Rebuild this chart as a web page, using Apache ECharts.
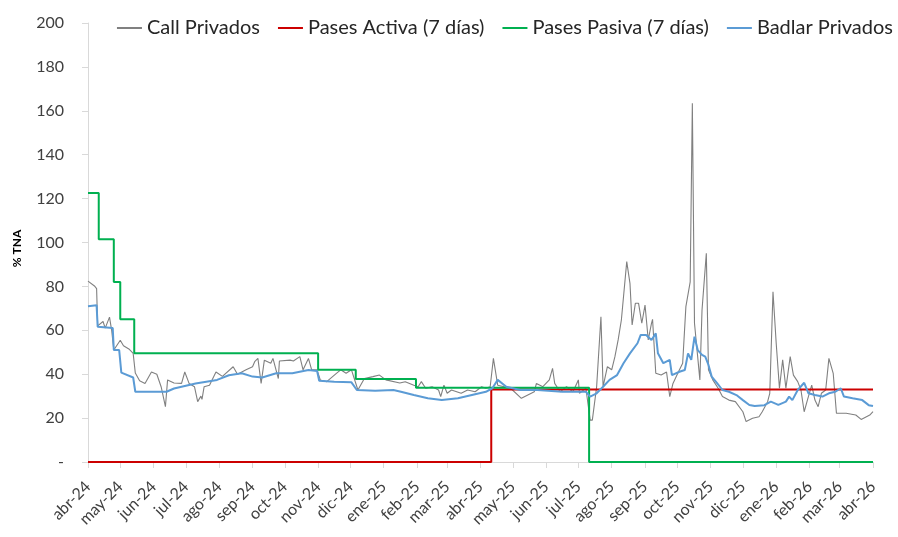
<!DOCTYPE html>
<html>
<head>
<meta charset="utf-8">
<script src="https://cdn.jsdelivr.net/npm/echarts@6/dist/echarts.min.js"></script>
<style>
html,body{margin:0;padding:0;background:#fff}
#tasas{width:898px;height:537px}
</style>
</head>
<body>
<div id="tasas"></div>
<script>
// meses para las etiquetas del eje x
var meses = ['ene','feb','mar','abr','may','jun','jul','ago','sep','oct','nov','dic'];
var desde = '2024-04-01';
var hasta = '2026-04-01';

// Call Privados
var callFechas = [
  '2024-04-01','2024-04-07','2024-04-09','2024-04-10','2024-04-15','2024-04-17','2024-04-21','2024-04-23','2024-04-25',
  '2024-05-01','2024-05-04','2024-05-09','2024-05-13','2024-05-15','2024-05-19','2024-05-24','2024-05-30',
  '2024-06-04','2024-06-08','2024-06-12','2024-06-14','2024-06-20','2024-06-27','2024-06-30',
  '2024-07-04','2024-07-09','2024-07-12','2024-07-15','2024-07-16','2024-07-18','2024-07-23','2024-07-29',
  '2024-08-04','2024-08-14','2024-08-18','2024-08-22','2024-08-26',
  '2024-09-01','2024-09-03','2024-09-06','2024-09-09','2024-09-12','2024-09-18','2024-09-20','2024-09-25','2024-09-26',
  '2024-10-06','2024-10-09','2024-10-15','2024-10-18','2024-10-23','2024-10-26','2024-10-31',
  '2024-11-03','2024-11-09','2024-11-18','2024-11-22','2024-11-27',
  '2024-12-02','2024-12-08','2024-12-14','2024-12-22','2024-12-28',
  '2025-01-03','2025-01-16','2025-01-21','2025-01-29',
  '2025-02-02','2025-02-05','2025-02-09','2025-02-15','2025-02-21','2025-02-23','2025-02-26',
  '2025-03-01','2025-03-05','2025-03-14','2025-03-20','2025-03-27',
  '2025-04-02','2025-04-06','2025-04-10','2025-04-13','2025-04-17','2025-04-23','2025-04-29',
  '2025-05-09','2025-05-15','2025-05-21','2025-05-23','2025-05-29',
  '2025-06-04','2025-06-07','2025-06-09','2025-06-14','2025-06-20','2025-06-26',
  '2025-07-01','2025-07-02','2025-07-08','2025-07-12','2025-07-14','2025-07-18','2025-07-22','2025-07-24','2025-07-28',
  '2025-08-01','2025-08-04','2025-08-07','2025-08-10','2025-08-15','2025-08-18','2025-08-20','2025-08-23','2025-08-26','2025-08-29',
  '2025-09-01','2025-09-04','2025-09-07','2025-09-08','2025-09-11','2025-09-16','2025-09-21','2025-09-24','2025-09-27',
  '2025-10-02','2025-10-06','2025-10-09','2025-10-13','2025-10-15','2025-10-17','2025-10-22','2025-10-24','2025-10-28','2025-10-30',
  '2025-11-03','2025-11-08','2025-11-12','2025-11-18','2025-11-24',
  '2025-12-01','2025-12-04','2025-12-10','2025-12-16','2025-12-19','2025-12-24','2025-12-26','2025-12-29',
  '2026-01-01','2026-01-04','2026-01-07','2026-01-10','2026-01-14','2026-01-17','2026-01-21','2026-01-24','2026-01-27','2026-01-30',
  '2026-02-03','2026-02-06','2026-02-09','2026-02-12','2026-02-16','2026-02-19','2026-02-23','2026-02-26',
  '2026-03-07','2026-03-16','2026-03-21','2026-03-29',
  '2026-04-01'
];
var callValores = [
  82.4, 80.2, 79, 62, 64, 61, 66, 60, 51,
  55.5, 53, 51.5, 49.5, 40.5, 37, 35.8, 41,
  40, 34.3, 25.2, 37.4, 36, 35.8, 41,
  35.8, 34.3, 27.5, 30, 28.5, 34.3, 35, 41,
  39, 43.4, 40, 41, 42,
  43.4, 45.7, 47.2, 35.8, 46.4, 45, 47.2, 38, 46,
  46.4, 46, 48, 42, 47.2, 42, 42,
  37.4, 36.6, 40.4, 42, 40.4,
  42, 32.8, 38, 38.9, 39.6,
  37.4, 36, 36.6, 35,
  34.3, 36.6, 33.6, 34.3, 32.8, 29.8, 35,
  31.3, 32.8, 31.3, 32.8, 32,
  34.3, 33.6, 34.3, 47.2, 35, 34.3, 33.6,
  29, 30.5, 32, 35.8, 34.3,
  37.4, 42.7, 35.8, 32, 34.3, 32,
  37.4, 31.3, 33.6, 19.1, 19.1, 34.3, 66.2, 34.3, 43.4,
  42, 48, 55.6, 64.7, 91.3, 81.4, 62.4, 72.3, 72.3, 63.2,
  71.5, 55.6, 63.2, 65, 40.4, 39.6, 41, 29.8, 35.8,
  41, 45, 70.8, 82.1, 163.4, 63.2, 37.4, 69.2, 95.1, 42,
  37.4, 33.6, 29.8, 28.2, 27.5,
  22.9, 18.4, 19.9, 20.6, 22.9, 27.5, 31.3, 77.6,
  54, 33.6, 46.5, 33.6, 48, 39.6, 36.6, 32.8, 22.9, 28.2,
  35, 28.2, 25.2, 31.3, 32.8, 47.2, 40.4, 22.2,
  22.2, 21.4, 19.4, 21.4,
  22.9
];

// Badlar Privados
var badlarFechas = [
  '2024-04-01','2024-04-09','2024-04-10','2024-04-24','2024-04-25','2024-04-30',
  '2024-05-02','2024-05-13','2024-05-15',
  '2024-06-13','2024-06-20',
  '2024-07-10','2024-07-30',
  '2024-08-10','2024-08-22',
  '2024-09-01','2024-09-10','2024-09-23',
  '2024-10-08','2024-10-23','2024-10-31',
  '2024-11-02','2024-11-16',
  '2024-12-02','2024-12-07','2024-12-24',
  '2025-01-10','2025-01-17','2025-01-29',
  '2025-02-11','2025-02-24',
  '2025-03-11','2025-03-24',
  '2025-04-06','2025-04-12','2025-04-17','2025-04-25',
  '2025-05-08','2025-05-24',
  '2025-06-16',
  '2025-07-08','2025-07-12','2025-07-18','2025-07-24','2025-07-30',
  '2025-08-06','2025-08-12','2025-08-18','2025-08-25','2025-08-28',
  '2025-09-02','2025-09-07','2025-09-11','2025-09-13','2025-09-18','2025-09-24','2025-09-26',
  '2025-10-03','2025-10-08','2025-10-11','2025-10-14','2025-10-17','2025-10-20','2025-10-24','2025-10-27','2025-10-30',
  '2025-11-02','2025-11-07','2025-11-12','2025-11-18','2025-11-25',
  '2025-12-01','2025-12-07','2025-12-12','2025-12-21','2025-12-27',
  '2026-01-03','2026-01-10','2026-01-13','2026-01-16','2026-01-21','2026-01-27','2026-01-31',
  '2026-02-06','2026-02-13','2026-02-19','2026-02-25',
  '2026-03-02','2026-03-05','2026-03-13','2026-03-22','2026-03-28',
  '2026-04-01'
];
var badlarValores = [
  71, 71.4, 61.6, 61, 51, 51,
  40.7, 38.5, 32,
  32, 33.5,
  35.8, 37.4,
  39.5, 40.4,
  38.9, 38.5, 40.4,
  40.4, 41.9, 41.5,
  37, 36.6,
  36.3, 32.8, 32.5,
  32.8, 32, 30.5,
  29, 28.2,
  29, 30.5,
  32, 33.6, 37.4, 34.3,
  32.8, 32.8,
  32,
  32, 29.8, 31.3, 34.3, 37.4,
  39.6, 45, 49.5, 54.1, 57.9,
  57.9, 55.6, 58.6, 49.5, 45, 46.5, 39.6,
  41.1, 41.9, 49.5, 46.5, 57.1, 51, 48.8, 48, 44.2,
  38.9, 35.9, 32.8, 32, 30.5,
  28.2, 26, 25.5, 25.9, 27.5,
  26, 27.5, 29.8, 28.2, 32.8, 36.1, 31.3,
  30.5, 29.8, 31.3, 32,
  33.6, 29.8, 29, 28.2, 25.9,
  25.5
];

// pases: fecha de cada cambio y nivel vigente desde esa fecha
var activaCambios = ['2024-04-01', '2025-04-11'];
var activaNiveles = [0, 33];
var pasivaCambios = ['2024-04-01','2024-04-11','2024-04-25','2024-05-01','2024-05-14','2024-11-01','2024-12-06','2025-01-31','2025-07-11'];
var pasivaNiveles = [122.5, 101.5, 82, 65, 49.5, 42, 37.8, 33.8, 0];

function juntar(fechas, valores) {
    var out = [];
    for (var i = 0; i < fechas.length; i++) out.push([fechas[i], valores[i]]);
    return out;
}
// escalera: cada nivel se mantiene hasta el siguiente cambio
function escalones(cambios, niveles, fin) {
    var out = [];
    for (var i = 0; i < cambios.length; i++) {
        if (i > 0) out.push([cambios[i], niveles[i - 1]]);
        out.push([cambios[i], niveles[i]]);
    }
    out.push([fin, niveles[niveles.length - 1]]);
    return out;
}

var fuente = 'Lato';
var DIA = 24 * 3600 * 1000;
var myChart = echarts.init(document.getElementById('tasas'));

var option = {
    animation: false,
    textStyle: { fontFamily: fuente },
    legend: {
        right: 0,
        top: 13,
        icon: 'rect',
        itemWidth: 25,
        itemHeight: 2,
        itemGap: 18,
        textStyle: { fontSize: 20, color: '#262626', fontFamily: fuente },
        data: ['Call Privados', 'Pases Activa (7 días)', 'Pases Pasiva (7 días)', 'Badlar Privados']
    },
    grid: { left: 88, right: 25, top: 23, bottom: 75 },
    xAxis: {
        type: 'time',
        min: desde,
        max: hasta,
        minInterval: 28 * DIA,
        maxInterval: 31 * DIA,
        splitLine: { show: false },
        axisLine: { lineStyle: { color: '#d9d9d9', width: 1 } },
        axisTick: { show: true, length: 6, lineStyle: { color: '#d9d9d9' } },
        axisLabel: {
            rotate: 45,
            margin: 22,
            fontSize: 16,
            color: '#404040',
            hideOverlap: false,
            formatter: function (v) {
                var d = new Date(v);
                return meses[d.getMonth()] + '-' + String(d.getFullYear()).slice(2);
            }
        }
    },
    yAxis: {
        type: 'value',
        min: 0,
        max: 200,
        interval: 20,
        name: '% TNA',
        nameLocation: 'middle',
        nameGap: 65,
        nameTextStyle: { fontSize: 12, fontWeight: 'bold', color: '#000', fontFamily: fuente, padding: [0, 12, 0, 0] },
        splitLine: { show: false },
        axisLine: { show: true, lineStyle: { color: '#d9d9d9', width: 1 } },
        axisTick: { show: true, length: 6, lineStyle: { color: '#d9d9d9' } },
        axisLabel: {
            margin: 24,
            fontSize: 16,
            color: '#404040',
            formatter: function (v) { return v === 0 ? '-' : v; }
        }
    },
    series: [
        {
            name: 'Call Privados',
            type: 'line',
            symbol: 'none',
            lineStyle: { color: '#808080', width: 1.1 },
            itemStyle: { color: '#808080' },
            data: juntar(callFechas, callValores)
        },
        {
            name: 'Pases Activa (7 días)',
            type: 'line',
            symbol: 'none',
            lineStyle: { color: '#cc0000', width: 2 },
            itemStyle: { color: '#cc0000' },
            data: escalones(activaCambios, activaNiveles, hasta)
        },
        {
            name: 'Pases Pasiva (7 días)',
            type: 'line',
            symbol: 'none',
            lineStyle: { color: '#00b050', width: 2 },
            itemStyle: { color: '#00b050' },
            data: escalones(pasivaCambios, pasivaNiveles, hasta)
        },
        {
            name: 'Badlar Privados',
            type: 'line',
            symbol: 'none',
            lineStyle: { color: '#5b9bd5', width: 2 },
            itemStyle: { color: '#5b9bd5' },
            data: juntar(badlarFechas, badlarValores)
        }
    ]
};
myChart.setOption(option);
</script>
</body>
</html>
